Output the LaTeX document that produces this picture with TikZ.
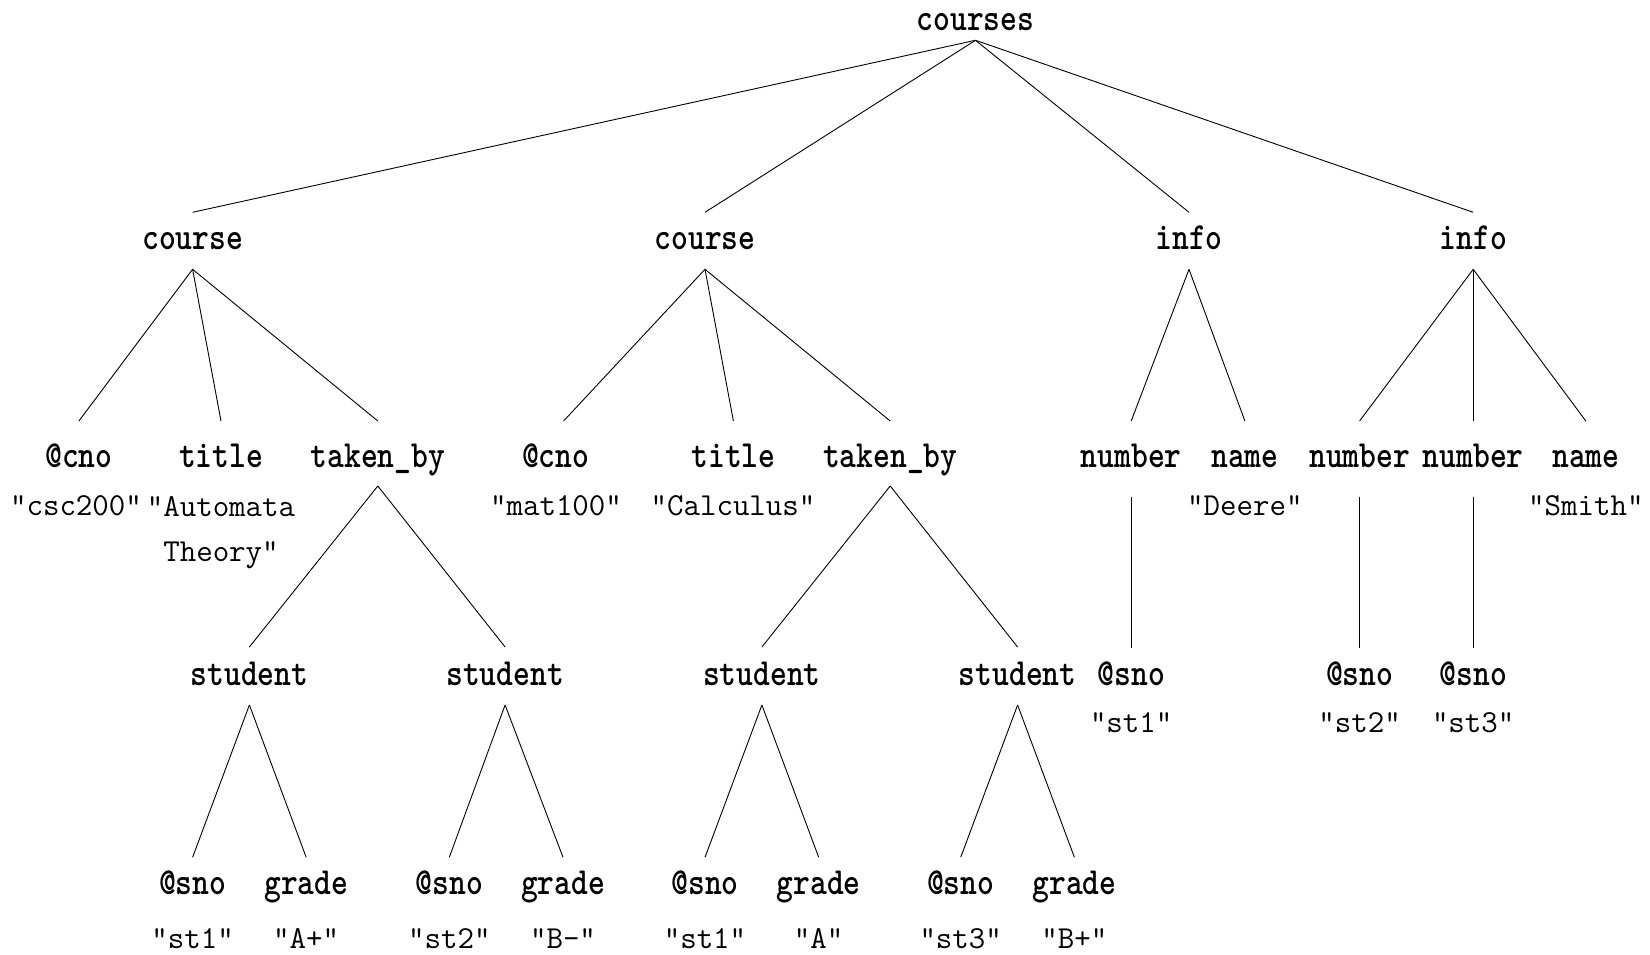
\documentclass[tikz,border=0pt]{standalone}
\usepackage{fontspec}
\usepackage{graphicx}
\usepackage{pdfrender}
% element names: typewriter bold, drawn a little taller and heavier
\newcommand\elname[1]{\scalebox{1}[1.2]{\textpdfrender{TextRenderingMode=FillStroke,LineWidth=0.7pt}{#1}}}
\begin{document}
\begin{tikzpicture}[x=1pt,y=-1pt,
  lab/.style={font=\ttfamily\bfseries\fontsize{32}{38}\selectfont, anchor=base, inner sep=0pt},
  val/.style={font=\ttfamily\fontsize{32}{45}\selectfont, anchor=base, inner sep=0pt, align=center},
  edge/.style={draw=black, line width=0.9pt}]
\useasboundingbox (0,0) rectangle (1650,955);

% root
\node[lab] (root) at (975.5,30.3) {\elname{courses}};

% first level
\node[lab] (c1) at (192.6,249.3) {\elname{course}};
\node[lab] (c2) at (705,249.3) {\elname{course}};
\node[lab] (i1) at (1189,249.3) {\elname{info}};
\node[lab] (i2) at (1473.2,249.3) {\elname{info}};

% second level
\node[lab] (cno1) at (78.9,467) {\elname{@cno}};
\node[lab] (t1) at (221,467) {\elname{title}};
\node[lab] (tb1) at (377.8,467) {\elname{taken\_by}};
\node[lab] (cno2) at (555.6,467) {\elname{@cno}};
\node[lab] (t2) at (733.4,467) {\elname{title}};
\node[lab] (tb2) at (890.2,467) {\elname{taken\_by}};
\node[lab] (n1) at (1131.2,467) {\elname{number}};
\node[lab] (nm1) at (1244.9,467) {\elname{name}};
\node[lab] (n2) at (1359.6,467) {\elname{number}};
\node[lab] (n3) at (1473.2,467) {\elname{number}};
\node[lab] (nm2) at (1585.8,467) {\elname{name}};

% values under the second level (a two-line node sits on its last line)
\node[val] (vcno1) at (76,515) {"csc200"};
\node[val] (vt1) at (221,561) {"Automata\\Theory"};
\node[val] (vcno2) at (556,515) {"mat100"};
\node[val] (vt2) at (733,515) {"Calculus"};
\node[val] (vnm1) at (1244.9,515) {"Deere"};
\node[val] (vnm2) at (1585.8,515) {"Smith"};

% third level
\node[lab] (s1) at (249.4,685) {\elname{student}};
\node[lab] (s2) at (505.1,685) {\elname{student}};
\node[lab] (s3) at (761.9,685) {\elname{student}};
\node[lab] (s4) at (1017.6,685) {\elname{student}};
\node[lab] (sn1) at (1131.2,685) {\elname{@sno}};
\node[lab] (sn2) at (1359.6,685) {\elname{@sno}};
\node[lab] (sn3) at (1473.2,685) {\elname{@sno}};

\node[val] (vsn1) at (1131.2,732) {"st1"};
\node[val] (vsn2) at (1359.6,732) {"st2"};
\node[val] (vsn3) at (1473.2,732) {"st3"};

% fourth level
\node[lab] (a1) at (192.6,894.3) {\elname{@sno}};
\node[lab] (g1) at (306.2,894.3) {\elname{grade}};
\node[lab] (a2) at (449.3,894.3) {\elname{@sno}};
\node[lab] (g2) at (563,894.3) {\elname{grade}};
\node[lab] (a3) at (705,894.3) {\elname{@sno}};
\node[lab] (g3) at (818.7,894.3) {\elname{grade}};
\node[lab] (a4) at (960.7,894.3) {\elname{@sno}};
\node[lab] (g4) at (1074.4,894.3) {\elname{grade}};

\node[val] (va1) at (192.6,948) {"st1"};
\node[val] (vg1) at (306.2,948) {"A+"};
\node[val] (va2) at (449.3,948) {"st2"};
\node[val] (vg2) at (563,948) {"B-"};
\node[val] (va3) at (705,948) {"st1"};
\node[val] (vg3) at (818.7,948) {"A"};
\node[val] (va4) at (960.7,948) {"st3"};
\node[val] (vg4) at (1074.4,948) {"B+"};

% edges from the root
\foreach \c in {c1,c2,i1,i2}
  \draw[edge] ([yshift=-10pt]root.base) -- ([yshift=37pt]\c.base);

% edges below the first level
\draw[edge] ([yshift=-20pt]c1.base) -- ([yshift=46pt]cno1.base);
\draw[edge] ([yshift=-20pt]c1.base) -- ([yshift=46pt]t1.base);
\draw[edge] ([yshift=-20pt]c1.base) -- ([yshift=46pt]tb1.base);
\draw[edge] ([yshift=-20pt]c2.base) -- ([xshift=8pt,yshift=46pt]cno2.base);
\draw[edge] ([yshift=-20pt]c2.base) -- ([yshift=46pt]t2.base);
\draw[edge] ([yshift=-20pt]c2.base) -- ([yshift=46pt]tb2.base);
\draw[edge] ([yshift=-20pt]i1.base) -- ([yshift=46pt]n1.base);
\draw[edge] ([yshift=-20pt]i1.base) -- ([yshift=46pt]nm1.base);
\draw[edge] ([yshift=-20pt]i2.base) -- ([yshift=46pt]n2.base);
\draw[edge] ([yshift=-20pt]i2.base) -- ([yshift=46pt]n3.base);
\draw[edge] ([yshift=-20pt]i2.base) -- ([yshift=46pt]nm2.base);

% edges below the second level
\draw[edge] ([yshift=-19pt]tb1.base) -- ([yshift=38pt]s1.base);
\draw[edge] ([yshift=-19pt]tb1.base) -- ([yshift=38pt]s2.base);
\draw[edge] ([yshift=-19pt]tb2.base) -- ([yshift=38pt]s3.base);
\draw[edge] ([yshift=-19pt]tb2.base) -- ([yshift=38pt]s4.base);
\draw[edge] ([yshift=-30pt]n1.base) -- ([yshift=37pt]sn1.base);
\draw[edge] ([yshift=-30pt]n2.base) -- ([yshift=37pt]sn2.base);
\draw[edge] ([yshift=-30pt]n3.base) -- ([yshift=37pt]sn3.base);

% edges below the third level
\foreach \s/\a/\g in {s1/a1/g1,s2/a2/g2,s3/a3/g3,s4/a4/g4}{
  \draw[edge] ([yshift=-20pt]\s.base) -- ([yshift=37pt]\a.base);
  \draw[edge] ([yshift=-20pt]\s.base) -- ([yshift=37pt]\g.base);
}
\end{tikzpicture}
\end{document}
